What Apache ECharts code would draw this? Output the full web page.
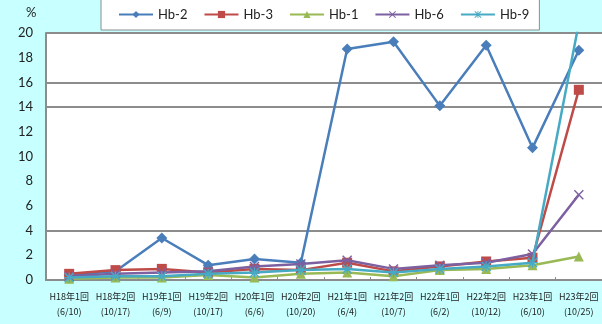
<!DOCTYPE html>
<html><head><meta charset="utf-8">
<script src="https://cdn.jsdelivr.net/npm/echarts@6/dist/echarts.min.js"></script>
<style>html,body{margin:0;padding:0;background:#C8FFFF;}#c{width:602px;height:324px;}</style>
</head><body><div id="c"></div>
<script>
const categories = ["H18年1回\n(6/10)","H18年2回\n(10/17)","H19年1回\n(6/9)","H19年2回\n(10/17)","H20年1回\n(6/6)","H20年2回\n(10/20)","H21年1回\n(6/4)","H21年2回\n(10/7)","H22年1回\n(6/2)","H22年2回\n(10/12)","H23年1回\n(6/10)","H23年2回\n(10/25)"];
const hb2 = [0.4, 0.7, 3.4, 1.2, 1.7, 1.4, 18.7, 19.3, 14.1, 19.0, 10.7, 18.6];
const hb3 = [0.5, 0.8, 0.9, 0.6, 0.9, 0.8, 1.4, 0.7, 1.1, 1.5, 1.8, 15.4];
const hb1 = [0.1, 0.2, 0.2, 0.4, 0.2, 0.5, 0.6, 0.3, 0.8, 0.9, 1.2, 1.9];
const hb6 = [0.3, 0.5, 0.6, 0.7, 1.1, 1.3, 1.6, 0.9, 1.2, 1.4, 2.1, 6.9];
const hb9 = [0.2, 0.3, 0.3, 0.5, 0.6, 0.8, 0.9, 0.6, 0.9, 1.1, 1.4, 20.8];
const seriesNames = ["Hb-2","Hb-3","Hb-1","Hb-6","Hb-9"];
const yTicks = {min: 0, max: 20, interval: 2};

const X = "path://M0,1L1,0L5,4L9,0L10,1L6,5L10,9L9,10L5,6L1,10L0,9L4,5Z";
const STAR = "path://M0,1L1,0L4.4,3.4L4.4,0L5.6,0L5.6,3.4L9,0L10,1L6.6,4.4L10,4.4L10,5.6L6.6,5.6L10,9L9,10L5.6,6.6L5.6,10L4.4,10L4.4,6.6L1,10L0,9L3.4,5.6L0,5.6L0,4.4L3.4,4.4Z";
const colors = ["#4A7EBB","#BE4B48","#98B954","#7D60A0","#46AAC5"];
const symbols = ["diamond","rect","triangle",X,STAR];
const sizes = [11,10,10,10,10];
const datas = [hb2,hb3,hb1,hb6,hb9];

const chart = echarts.init(document.getElementById('c'));
const grid = '#8C8C8C';
chart.setOption({
  backgroundColor: '#C8FFFF',
  animation: false,
  color: colors,
  textStyle: {fontFamily: 'Lato'},
  graphic: [{type:'text', left: 26, top: 6, style:{text:'%', font:'13px Lato', fill:'#222'}}],
  legend: {
    data: seriesNames, left: 101, top: -6, width: 437,
    backgroundColor: '#fff', borderColor: '#8C8C8C', borderWidth: 1,
    padding: [14, 10, 9, 17], itemWidth: 34, itemHeight: 9, itemGap: 16,
    textStyle: {fontSize: 13, color: '#222', fontFamily: 'Lato'}
  },
  grid: {left: 46, top: 33, width: 557, height: 247, show: true, backgroundColor: '#fff', borderWidth: 0, containLabel: false},
  xAxis: {
    type: 'category', data: categories, boundaryGap: true,
    axisLine: {lineStyle: {color: grid, width: 2}},
    axisTick: {show: true, inside: true, length: 3, lineStyle: {color: grid}},
    axisLabel: {interval: 0, fontSize: 9, lineHeight: 15, color: '#222', margin: 9, fontFamily: 'Noto Sans CJK JP'}
  },
  yAxis: {
    type: 'value', min: yTicks.min, max: yTicks.max, interval: yTicks.interval,
    axisLine: {show: true, lineStyle: {color: grid, width: 2}},
    axisTick: {show: false},
    axisLabel: {fontSize: 13, color: '#222', margin: 13},
    splitLine: {lineStyle: {width: 2, color: ['rgba(0,0,0,0)','rgba(0,0,0,0)',grid,'rgba(0,0,0,0)','rgba(0,0,0,0)','rgba(0,0,0,0)','rgba(0,0,0,0)',grid,grid,'rgba(0,0,0,0)',grid]}}
  },
  series: seriesNames.map((n,i) => ({
    name: n, type: 'line', data: datas[i], symbol: symbols[i], symbolSize: sizes[i],
    lineStyle: {width: 2.5, color: colors[i]},
    itemStyle: {color: colors[i]},
    clip: true, z: 2 + i
  }))
});
</script></body></html>
